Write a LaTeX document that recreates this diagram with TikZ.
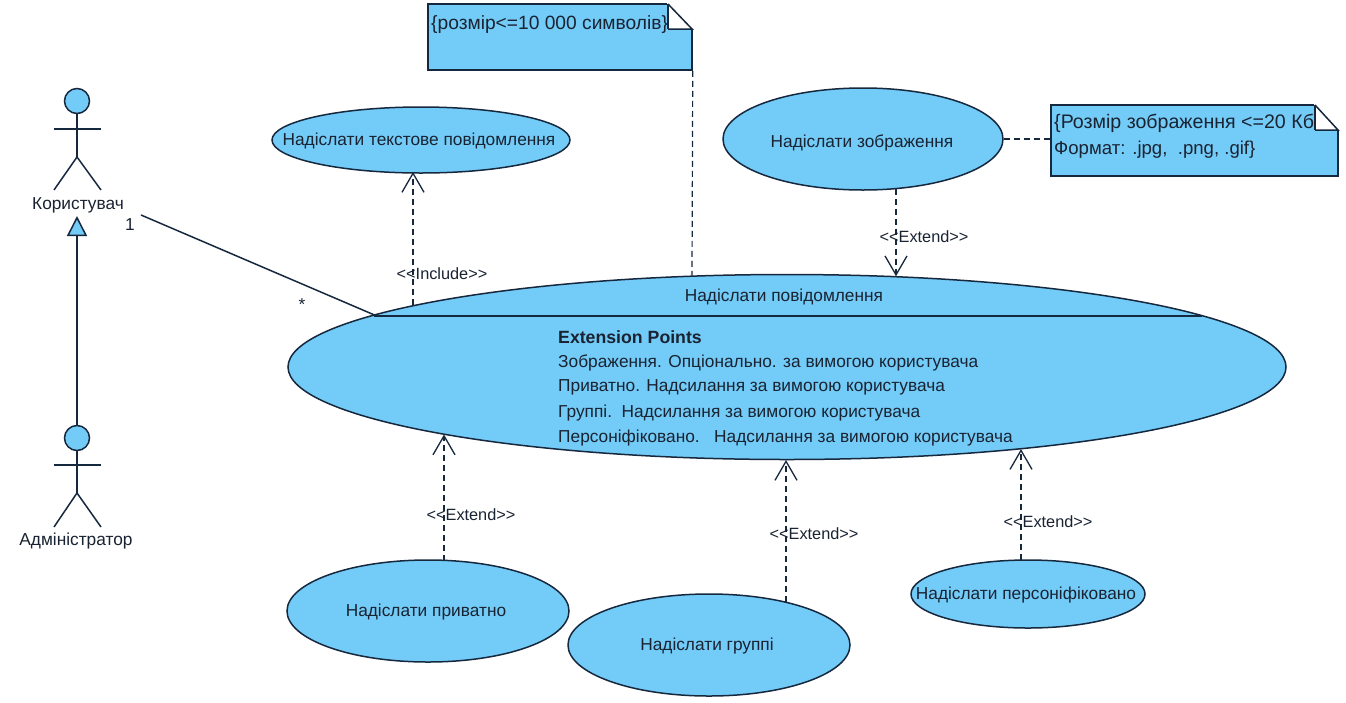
\documentclass[tikz,border=0pt]{standalone}
\usepackage{fontspec}
\setmainfont{Liberation Sans}
\usetikzlibrary{shapes.geometric,arrows.meta}
\definecolor{ucfill}{RGB}{115,203,247}
\definecolor{ucline}{RGB}{22,40,62}
\definecolor{uctext}{RGB}{25,35,50}
\tikzset{
  every node/.style={font=\fontsize{17.3}{19}\selectfont,text=uctext},
  usecase/.style={ellipse,draw=ucline,fill=ucfill,line width=1.5pt,inner sep=0pt,minimum width=#1},
  line/.style={draw=ucline,line width=1.5pt},
  dep/.style={draw=ucline,line width=1.2pt,dashed,dash pattern=on 6pt off 4pt,-{Straight Barb[length=19pt,width=22pt,line width=1.3pt]}},
  anchorline/.style={draw=ucline,line width=1.2pt,dashed,dash pattern=on 6pt off 4pt},
  notebox/.style={rectangle,draw=ucline,fill=ucfill,line width=1.5pt,inner sep=0pt},
  lbl/.style={inner sep=0pt,fill=none,yshift=-1.5pt},
  stereo/.style={lbl,font=\fontsize{16.3}{19}\selectfont},
  notetxt/.style={lbl,anchor=west,font=\fontsize{#1}{22}\selectfont},
  gen/.style={line,-{Triangle[length=20pt,width=20pt,fill=ucfill,line width=1.5pt]}}
}
\begin{document}
\begin{tikzpicture}[x=1pt,y=-1pt]
\useasboundingbox[fill=white] (0,0) rectangle (1346,702);
% use cases
\node[usecase=298pt,minimum height=66pt] (tx) at (421,140) {};
\node[usecase=280pt,minimum height=102pt] (img) at (863,139) {};
\node[usecase=282pt,minimum height=102pt] (priv) at (428,611) {};
\node[usecase=282pt,minimum height=102pt] (grp) at (709,645) {};
\node[usecase=234pt,minimum height=68pt] (pers) at (1028,594) {};
\node[usecase=998pt,minimum height=185pt] (main) at (787,367) {};
\coordinate (divl) at (374,316);
\coordinate (divr) at (1202,316);
\draw[line] (divl) -- (divr);
% notes
\node[notebox,minimum width=264pt,minimum height=66pt] (n1) at (560,37) {};
\node[notebox,minimum width=287pt,minimum height=71pt] (n2) at (1194.5,140.5) {};
\fill[white] (667,2) rectangle (694,29);
\fill[white] (1314,103) rectangle (1340,130);
% actors
\node[circle,draw=ucline,fill=ucfill,line width=1.5pt,minimum size=25pt,inner sep=0pt] (uh) at (77,101) {};
\node[circle,draw=ucline,fill=ucfill,line width=1.5pt,minimum size=25pt,inner sep=0pt] (ah) at (77,438) {};
\coordinate (uhip) at (77,157);
\coordinate (ahip) at (77,493);
\draw[line] (uh.south) -- (uhip);
\draw[line] (54,129) -- (101,129);
\draw[line] (54,190) -- (uhip) -- (101,190);
\draw[line] (ah.south) -- (ahip);
\draw[line] (54,465) -- (101,465);
\draw[line] (54,527) -- (ahip) -- (101,527);
\node[lbl] (ul) at (78,204) {Користувач};
\node[lbl] (al) at (76,540) {Адміністратор};
% connectors
\coordinate (gentip) at (77,216);
\draw[gen] (ah.north) -- (gentip);
\coordinate (asc) at (141,215);
\draw[line] (asc) -- ([shift={(-413,-52.2)}]main.center);
\node[lbl] (m1) at (130,223) {1};
\node[lbl] (m2) at (302,303) {*};
\draw[dep] ([shift={(-374,-61.6)}]main.center) -- ([shift={(-8,32)}]tx.center);
\node[stereo] (li) at (442,272) {<{}<Include>{}>};
\draw[anchorline] (n1.south east) -- ([shift={(-95,-91.3)}]main.center);
\draw[anchorline] (img.east) -- (img.east -| n2.west);
\draw[dep] ([shift={(33,49.6)}]img.center) -- ([shift={(109,-90.8)}]main.center);
\node[stereo] (l1) at (924,235) {<{}<Extend>{}>};
\draw[dep] ([shift={(16,-50.3)}]priv.center) -- ([shift={(-343,67.5)}]main.center);
\node[stereo] (l2) at (471,513) {<{}<Extend>{}>};
\draw[dep] ([shift={(77,-42.7)}]grp.center) -- ([shift={(-1,93)}]main.center);
\node[stereo] (l3) at (814,532) {<{}<Extend>{}>};
\draw[dep] ([shift={(-7,-33.6)}]pers.center) -- ([shift={(234,82.1)}]main.center);
\node[stereo] (l4) at (1048,520) {<{}<Extend>{}>};
% texts
\node[lbl] (ttx) at (419,139) {Надіслати текстове повідомлення};
\node[lbl] (timg) at (862,141) {Надіслати зображення};
\node[lbl] (tpriv) at (426,611) {Надіслати приватно};
\node[lbl] (tgrp) at (707,645) {Надіслати группі};
\node[lbl] (tpers) at (1026,594) {Надіслати персоніфіковано};
\node[lbl] (tmain) at (784,295) {Надіслати повідомлення};
\node[lbl,anchor=west,font=\fontsize{17.7}{19}\bfseries\selectfont] (e0) at (558,336) {Extension Points};
\node[lbl,anchor=west] (e1) at (558,361) {Зображення. Опціонально. за вимогою користувача};
\node[lbl,anchor=west] (e2) at (558,386) {Приватно. Надсилання за вимогою користувача};
\node[lbl,anchor=west] (e3) at (558,412) {Группі.\ \ Надсилання за вимогою користувача};
\node[lbl,anchor=west] (e4) at (558,437) {Персоніфіковано.\ \ \ Надсилання за вимогою користувача};
\node[notetxt=19.2] (tn1) at (431,23) {\{розмір<=10 000 символів\}};
\node[notetxt=19.6] (tn2a) at (1054,122) {\{Розмір зображення <=20 Кб};
\node[notetxt=18.6] (tn2b) at (1054,148) {Формат: .jpg,\ \ .png, .gif\}};
\draw[line,line join=miter] (668,4) -- (692,29) -- (668,29);
\draw[line,line join=miter] (1315,105) -- (1338,130) -- (1315,130);
\draw[line] (668,29) -- (668,4);
\draw[line] (1315,130) -- (1315,105);
\end{tikzpicture}
\end{document}
